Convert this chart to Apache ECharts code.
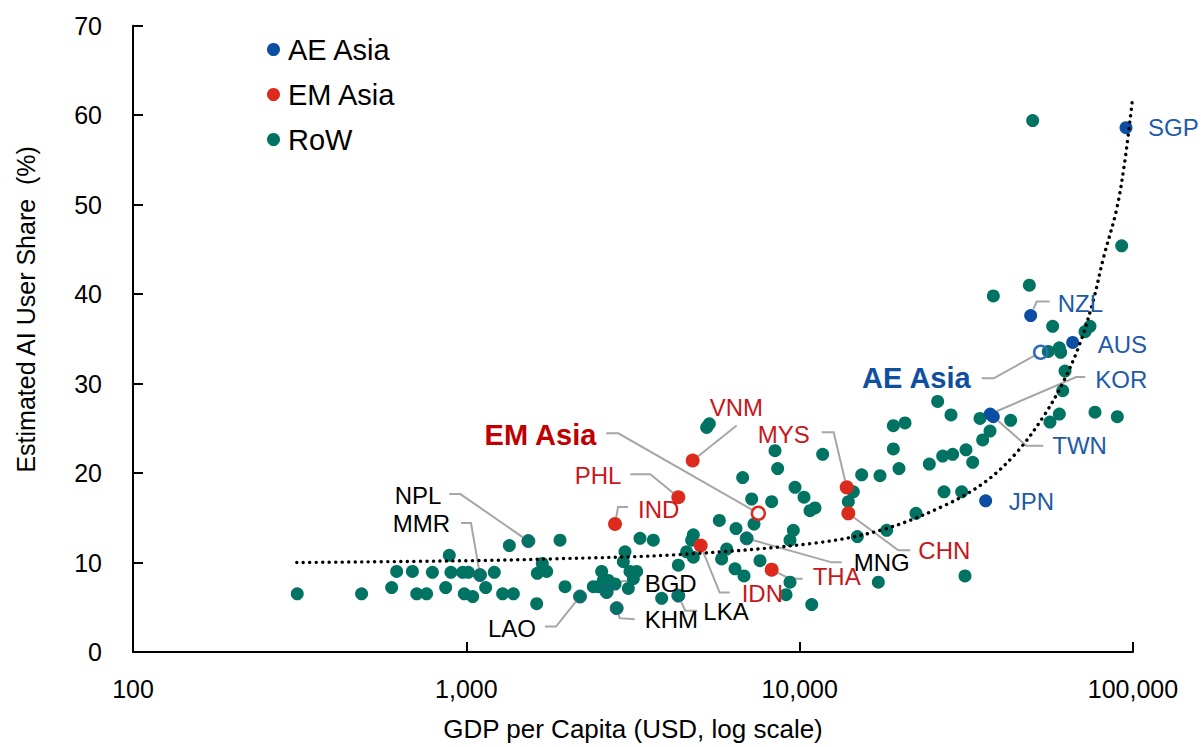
<!DOCTYPE html>
<html>
<head>
<meta charset="utf-8">
<script src="https://cdn.jsdelivr.net/npm/echarts@6/dist/echarts.min.js"></script>
<style>
html,body{margin:0;padding:0;background:#fff;}
#chart{width:1201px;height:747px;}
</style>
</head>
<body>
<div id="chart"></div>
<script>
// ---------------- DATA ----------------
const legendNames = ['AE Asia', 'EM Asia', 'RoW'];

// Rest of world (unlabelled)
const rowGdp = [311,485,597,618,689,710,760,791,889,867,899,975,1014,986,1045,1143,1213,1285,1384,1346,
  1626,1633,1690,1742,1910,1977,2404,2489,2547,2576,2667,2793,2992,2958,3097,3243,3170,3062,3319,3639,
  3855,4325,4581,4797,4797,4742,5260,5358,5741,6040,5834,6397,6808,6442,6745,7178,7295,7603,8241,8433,
  8590,9100,9354,9354,9572,9683,10304,10740,11117,10870,11722,13996,14488,14894,15346,17418,17219,18239,19099,19099,
  20701,19860,22336,24491,25942,26853,27102,28445,28774,30620,31550,31330,33040,34754,35400,37240,38110,42950,48870,50000,
  55700,56360,57410,60120,60670,60120,61520,62520,71780,74300,76910,89740,92470];
const rowShare = [6.5,6.5,7.2,9.0,9.0,6.5,6.5,8.9,10.8,7.2,8.9,8.9,8.9,6.5,6.2,7.2,8.9,6.5,6.5,11.9,
  5.4,8.8,9.9,9.0,12.5,7.3,7.3,7.3,9.0,8.0,8.0,7.6,11.2,10.1,9.0,9.0,8.2,7.1,12.7,12.5,
  6.0,9.7,11.2,10.6,13.1,12.5,25.1,25.5,14.7,11.5,10.4,9.3,8.5,13.8,19.5,17.1,14.3,10.2,16.8,22.5,
  20.5,6.4,7.8,12.5,13.6,18.4,17.3,15.8,16.1,5.3,22.1,16.8,17.9,12.9,19.8,19.7,7.8,13.6,22.7,25.3,
  25.6,20.5,15.5,21.0,28.0,21.9,17.9,26.5,22.1,17.9,22.6,8.5,21.2,26.1,23.7,24.7,39.8,25.9,41.0,59.4,
  33.6,25.7,36.4,34.0,33.5,26.6,29.2,31.4,35.8,36.4,26.8,26.3,45.4];

// Rest of world (labelled)
const rowLabNames = ['NPL','MMR','LAO','BGD','KHM','LKA','MNG'];
const rowLabGdp   = [1535, 1099, 2193, 2636, 2825, 4325, 6934];
const rowLabShare = [12.4, 8.6, 6.2, 6.7, 4.9, 6.3, 12.7];

// Advanced-economy Asia
const aeNames = ['SGP','NZL','AUS','KOR','TWN','JPN'];
const aeGdp   = [95280, 49320, 65920, 37300, 38100, 36140];
const aeShare = [58.6, 37.6, 34.6, 26.6, 26.3, 16.9];

// Emerging-market Asia
const emNames = ['VNM','PHL','IND','IDN','THA','MYS','CHN'];
const emGdp   = [4775, 4325, 2793, 5047, 8241, 13836, 13996];
const emShare = [21.4, 17.3, 14.3, 11.9, 9.2, 18.4, 15.5];

// Regional aggregates (open circles)
const aggNames = ['AE Asia', 'EM Asia'];
const aggGdp   = [52840, 7516];
const aggShare = [33.5, 15.5];

// Trend line
const trendGdp   = [310, 995, 1780, 4375, 11250, 17820, 27290, 35970, 44770, 53830, 61800, 69340, 76030, 81470, 89330, 94640, 99340];
const trendShare = [10.0, 10.2, 10.4, 10.9, 12.2, 13.7, 16.4, 19.0, 22.3, 26.3, 30.2, 34.5, 39.3, 44.0, 49.5, 55.0, 61.4];

// Axis ticks
const xTickValues = [100, 1000, 10000, 100000];
const xTickLabels = ['100', '1,000', '10,000', '100,000'];
const yTickLabels = ['0','10','20','30','40','50','60','70'];

// ---------------- STYLE / ANNOTATION LAYOUT ----------------
const FONT = "'Liberation Sans', Arial, Helvetica, sans-serif";
const C_AE = '#0B4EA2', C_AE_TXT = '#1E5AA8';
const C_EM = '#DC2A1C', C_EM_TXT = '#C8161A';
const C_ROW = '#007362';
const C_LINE = '#A6A6A6';

// label offsets (pixels relative to the point): text anchor, alignment, leader path
const labelLayout = {
  SGP: {t:[22,0], a:'left'},
  NZL: {t:[27,-12], a:'left', p:[[6,-14],[19,-14]]},
  AUS: {t:[25,2], a:'left'},
  KOR: {t:[105,-35], a:'left', p:[[86,-37],[95,-37]]},
  TWN: {t:[59,29], a:'left', p:[[33,29],[50,29]]},
  JPN: {t:[23,1], a:'left'},
  'AE Asia': {t:[-70,26], a:'right', p:[[-47,26],[-59,26]], bold:true},
  VNM: {t:[17,-53], a:'left', p:[[44,-35]]},
  MYS: {t:[-37,-53], a:'right', p:[[-13,-55],[-25,-55]]},
  PHL: {t:[-57,-22], a:'right', p:[[-28,-23],[-48,-23]]},
  IND: {t:[23,-15], a:'left', p:[[3,-17],[13,-17]]},
  'EM Asia': {t:[-162,-78], a:'right', p:[[-140,-80],[-152,-80]], bold:true},
  CHN: {t:[70,37], a:'left', p:[[50,37],[62,37]]},
  MNG: {t:[107,24], a:'left', p:[[85,24],[95,24]]},
  THA: {t:[41,7], a:'left', p:[[18,9],[31,9]]},
  IDN: {t:[41,48], a:'left', p:[[19,47],[29,47]]},
  LKA: {t:[25,16], a:'left', p:[[7,15],[19,15]]},
  KHM: {t:[28,11], a:'left', p:[[3,10],[18,11]]},
  BGD: {t:[38,-9], a:'left', p:[[16,-11],[28,-11]]},
  LAO: {t:[-44,32], a:'right', p:[[-24,30],[-35,30]]},
  NPL: {t:[-87,-46], a:'right', p:[[-68,-47],[-79,-47]]},
  MMR: {t:[-30,-52], a:'right', p:[[-9,-52],[-19,-52]]}
};

// ---------------- BUILD ----------------
const zip = (xs, ys) => xs.map((x, i) => [x, ys[i]]);
const rowData = zip(rowGdp, rowShare).concat(
  rowLabGdp.map((g, i) => ({value: [g, rowLabShare[i]], itemStyle: {borderColor: '#2A5C8C', borderWidth: 1}}))
);

const chart = echarts.init(document.getElementById('chart'), null, {renderer: 'svg'});

const option = {
  animation: false,
  backgroundColor: '#fff',
  textStyle: {fontFamily: FONT},
  grid: {left: 133, right: 68, top: 25.7, bottom: 93.4, containLabel: false},
  legend: {
    data: legendNames,
    orient: 'vertical',
    left: 262, top: 29,
    icon: 'circle',
    itemWidth: 13, itemHeight: 13,
    itemGap: 14,
    selectedMode: false,
    textStyle: {fontSize: 29, color: '#000', fontFamily: FONT, lineHeight: 31, padding: [0,0,0,3]}
  },
  xAxis: {
    type: 'log', logBase: 10, min: 100, max: 100000,
    name: 'GDP per Capita (USD, log scale)',
    nameLocation: 'middle', nameGap: 64,
    nameTextStyle: {fontSize: 26, color: '#000', fontFamily: FONT},
    axisLine: {lineStyle: {color: '#000', width: 2}},
    axisTick: {show: true, inside: true, length: 10, lineStyle: {color: '#000', width: 2}},
    axisLabel: {
      fontSize: 25, color: '#000', margin: 24, fontFamily: FONT,
      formatter: v => { const i = xTickValues.findIndex(t => Math.abs(t - v) / t < 1e-6); return i >= 0 ? xTickLabels[i] : ''; }
    },
    splitLine: {show: false},
    minorTick: {show: false}
  },
  yAxis: {
    type: 'value', min: 0, max: 70, interval: 10,
    name: 'Estimated AI User Share  (%)',
    nameLocation: 'middle', nameGap: 95, nameRotate: 90,
    nameTextStyle: {fontSize: 25, color: '#000', fontFamily: FONT, padding: [0,0,0,59]},
    axisLine: {show: true, lineStyle: {color: '#000', width: 2}},
    axisTick: {show: true, inside: true, length: 10, lineStyle: {color: '#000', width: 2}},
    axisLabel: {fontSize: 25, color: '#000', margin: 31, fontFamily: FONT,
      formatter: v => yTickLabels[Math.round(v / 10)] || ''},
    splitLine: {show: false}
  },
  series: [
    {name: 'RoW', type: 'scatter', symbolSize: 13, data: rowData, itemStyle: {color: C_ROW, opacity: 1}, z: 2},
    {name: 'AE Asia', type: 'scatter', symbolSize: 13, data: zip(aeGdp, aeShare), itemStyle: {color: C_AE, opacity: 1}, z: 3},
    {name: 'EM Asia', type: 'scatter', symbolSize: 14, data: zip(emGdp, emShare), itemStyle: {color: C_EM, opacity: 1}, z: 3},
    {name: 'aggregates', type: 'scatter', symbolSize: 13,
      data: aggGdp.map((g, i) => ({value: [g, aggShare[i]], itemStyle: {color: 'rgba(255,255,255,0)', borderColor: i === 0 ? '#2E6DB8' : C_EM, borderWidth: 2.5, opacity: 1}})),
      z: 4},
    {name: 'trend', type: 'line', data: zip(trendGdp, trendShare), showSymbol: false, smooth: 0.35,
      lineStyle: {color: '#000', width: 3.4, type: [0.1, 6.4], cap: 'round'}, z: 5, silent: true}
  ]
};
chart.setOption(option);

// ---------------- ANNOTATIONS (positioned from the axes) ----------------
const lookup = {};
aeNames.forEach((n, i) => lookup[n] = {v: [aeGdp[i], aeShare[i]], c: C_AE_TXT});
emNames.forEach((n, i) => lookup[n] = {v: [emGdp[i], emShare[i]], c: C_EM_TXT});
rowLabNames.forEach((n, i) => lookup[n] = {v: [rowLabGdp[i], rowLabShare[i]], c: '#000'});
aggNames.forEach((n, i) => lookup[n] = {v: [aggGdp[i], aggShare[i]], c: i === 0 ? '#0E4FA0' : '#C00000'});

const elements = [];
Object.keys(labelLayout).forEach(name => {
  const L = labelLayout[name];
  const d = lookup[name];
  const [px, py] = chart.convertToPixel({xAxisIndex: 0, yAxisIndex: 0}, d.v);
  if (L.p) {
    const first = L.p[0];
    const len = Math.hypot(first[0], first[1]) || 1;
    const r = 7;
    const pts = [[px + first[0] / len * r, py + first[1] / len * r]].concat(L.p.map(q => [px + q[0], py + q[1]]));
    elements.push({type: 'polyline', z: 1, silent: true, shape: {points: pts},
      style: {stroke: C_LINE, lineWidth: 2, fill: null}});
  }
  elements.push({type: 'text', z: 10, silent: true, x: px + L.t[0], y: py + L.t[1],
    style: {text: name, fill: d.c, font: (L.bold ? 'bold 29px ' : '24px ') + FONT,
      align: L.a, verticalAlign: 'middle'}});
});
chart.setOption({graphic: {elements: elements}});
</script>
</body>
</html>
